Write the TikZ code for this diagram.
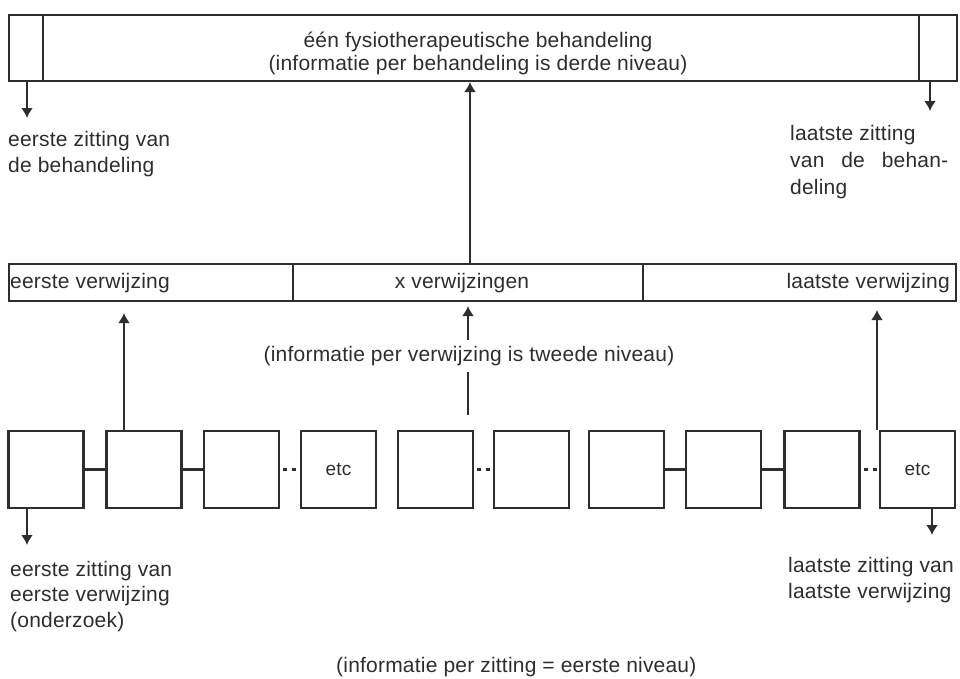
\documentclass[tikz,border=0pt]{standalone}
\usepackage{fontspec}
\setmainfont{Liberation Sans}[LetterSpace=1]
\usetikzlibrary{arrows.meta}
\definecolor{ink}{HTML}{2E2E2E}
\begin{document}
\begin{tikzpicture}[x=1pt,y=-1pt,
  band/.style={draw=ink, line width=2pt, inner sep=0pt, anchor=north west},
  zbox/.style={draw=ink, line width=2.2pt, inner sep=0pt, minimum width=75pt, minimum height=77pt, text=ink, font=\fontsize{19}{22}\selectfont},
  lbl/.style={text=ink, inner sep=0pt, font=\fontsize{21}{25.5}\selectfont, align=left},
  arr/.style={draw=ink, line width=2.2pt, -{Latex[length=10pt,width=12pt]}},
  solidlink/.style={draw=ink, line width=3pt},
  dashlink/.style={draw=ink, line width=2.4pt, dash pattern=on 4pt off 5pt, dash phase=-3pt}]
\useasboundingbox (0,0) rectangle (960,678);
\fill[white] (0,0) rectangle (960,678);

% top band: one treatment
\node[band, minimum width=948pt, minimum height=66pt] (beh) at (8,14) {};
\draw[draw=ink, line width=2pt] (43,14) -- (43,80) (919,14) -- (919,80);
\node[lbl, align=center, anchor=base, font=\fontsize{21}{23}\selectfont] (behtxt) at (478,70) {één fysiotherapeutische behandeling\\(informatie per behandeling is derde niveau)};
\coordinate (behL) at (27,118);
\coordinate (behR) at (930,111);
\draw[arr] (beh.south west -| behL) -- (behL);
\draw[arr] (beh.south west -| behR) -- (behR);
\node[lbl, anchor=base west] (firstbeh) at (8,172) {eerste zitting van\\de behandeling};
\node[lbl, anchor=base west, font=\fontsize{21}{27}\selectfont] (lastbeh) at (790,194) {laatste zitting\\\makebox[158pt][s]{van de behan-}\\deling};

% middle band: referrals
\node[band, minimum width=947pt, minimum height=37pt] (verw) at (8,263) {};
\draw[draw=ink, line width=2pt] (293,263) -- (293,300) (643,263) -- (643,300);
\node[lbl, anchor=west] (v1) at (10,283) {eerste verwijzing};
\node[lbl, anchor=center] (vx) at (462,283) {x verwijzingen};
\node[lbl, anchor=east] (vn) at (950,283) {laatste verwijzing};
\coordinate (vup) at (470,263);
\draw[arr] (vup) -- (vup |- beh.south);

% sessions
\node[zbox] (z1) at (46,469.5) {};
\node[zbox] (z2) at (144,469.5) {};
\node[zbox] (z3) at (241.5,469.5) {};
\node[zbox] (z4) at (338.5,469.5) {etc};
\node[zbox] (z5) at (435.5,469.5) {};
\node[zbox] (z6) at (531.5,469.5) {};
\node[zbox] (z7) at (626.5,469.5) {};
\node[zbox] (z8) at (723.5,469.5) {};
\node[zbox] (z9) at (822,469.5) {};
\node[zbox] (z10) at (917.5,469.5) {etc};
\draw[solidlink] (z1.east) -- (z2.west);
\draw[solidlink] (z2.east) -- (z3.west);
\draw[dashlink] (z3.east) -- (z4.west);
\draw[dashlink] (z5.east) -- (z6.west);
\draw[solidlink] (z7.east) -- (z8.west);
\draw[solidlink] (z8.east) -- (z9.west);
\draw[dashlink] (z9.east) -- (z10.west);

% arrows up to referrals
\coordinate (a1e) at (124,313);
\coordinate (a2) at (468,415);
\coordinate (a2e) at (468,306);
\coordinate (a3) at (877,430);
\coordinate (a3e) at (877,310);
\draw[arr] (z2.north -| a1e) -- (a1e);
\draw[arr] (a2) -- (a2e);
\draw[arr] (a3) -- (a3e);
\node[lbl, anchor=center, fill=white, inner xsep=2pt, inner ysep=6pt] (tweede) at (469,356) {(informatie per verwijzing is tweede niveau)};

% arrows down from sessions
\coordinate (d1) at (27,545);
\coordinate (d2) at (932,535);
\draw[arr] (z1.south -| d1) -- (d1);
\draw[arr] (z10.south -| d2) -- (d2);
\node[lbl, anchor=base west] (firstz) at (10,627) {eerste zitting van\\eerste verwijzing\\(onderzoek)};
\node[lbl, anchor=base west] (lastz) at (788,598) {laatste zitting van\\laatste verwijzing};
\node[lbl, anchor=base west] (eerste) at (336,672) {(informatie per zitting = eerste niveau)};
\end{tikzpicture}
\end{document}
